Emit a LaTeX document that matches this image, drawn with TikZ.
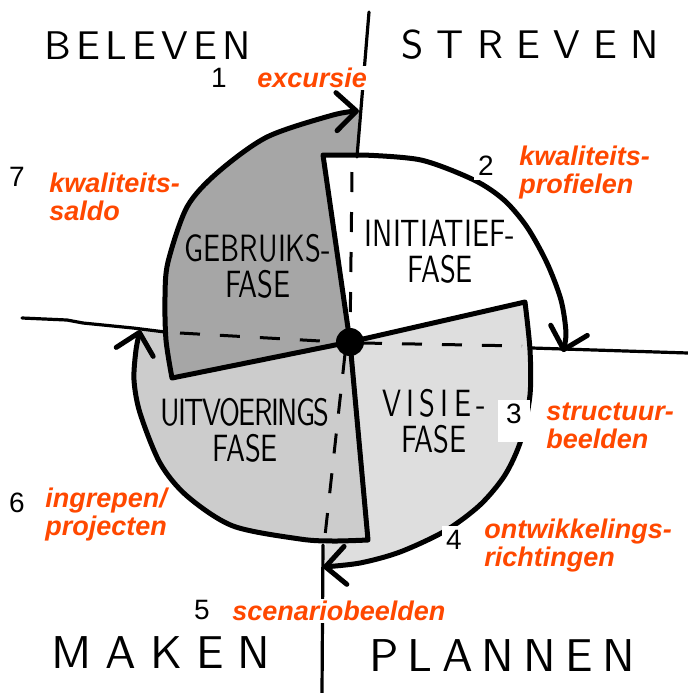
\documentclass[tikz,border=0pt]{standalone}
\usepackage{fontspec}
\setmainfont{Liberation Sans}
\newfontfamily\handfont{lmsans10-regular.otf}
\newfontfamily\phasefont{lmsans10-regular.otf}[FakeStretch=0.75]
\usetikzlibrary{arrows.meta}

\definecolor{cyclered}{RGB}{255,72,0}
\definecolor{usegray}{RGB}{166,166,166}
\definecolor{buildgray}{RGB}{204,204,204}
\definecolor{plangray}{RGB}{222,222,222}

\begin{document}
\begin{tikzpicture}[x=.5pt, y=-.5pt,
    rim/.style={line width=2.5pt, line cap=round, line join=round, -{Straight Barb[length=10pt, width=19pt, round]}},
    axis/.style={line width=1.6pt, line cap=round, line join=round},
    inaxis/.style={line width=1.5pt, dash pattern=on 10pt off 10pt},
    quarter/.style={font=\handfont\fontsize{20}{20}\selectfont, inner sep=0pt},
    phasename/.style={font=\phasefont\fontsize{19}{18}\selectfont, align=center},
    product/.style={font=\bfseries\itshape\fontsize{13.5}{14}\selectfont, text=cyclered, align=left, anchor=west, inner sep=1pt},
    stepno/.style={font=\fontsize{14}{14}\selectfont, inner sep=1pt},
    gapno/.style={stepno, fill=white, inner sep=2pt}]
  \useasboundingbox (0,0) rectangle (688,693);
  \coordinate (c) at (350,342);
  \coordinate (gebA) at (172,378);
  \coordinate (iniA) at (323,155);
  \coordinate (visA) at (525,302);
  \coordinate (uitA) at (368,540);

  \fill[plangray] (c) -- plot[smooth] coordinates {(visA) (530,350) (530,395) (521,440) (505,475) (480,505) (445,531) (400,552) (360,563) (323,567)} -- cycle;
  \fill[buildgray] (c) -- plot[smooth] coordinates {(uitA) (333,541) (300,539) (233,526) (187,496) (160,463) (140,413) (134,380) (136,350) (140,330)} -- cycle;
  \fill[usegray] (c) -- plot[smooth] coordinates {(gebA) (166,340) (165,297) (168,262) (187,207) (217,173) (267,137) (333,115) (359,111)} -- (357,155) -- (iniA) -- cycle;
  \fill[white] (c) -- (iniA) -- plot[smooth] coordinates {(363,155) (421,160) (474,180) (504,200) (527,227) (547,263) (561,300)} -- (visA) -- cycle;

  \draw[inaxis] (352,172) -- (c);
  \draw[inaxis] (362,343) -- (522,346);
  \draw[inaxis] (345,354) -- (324,545);
  \draw[inaxis] (180,333) -- (338,342);
  \draw[axis] (369,12) -- (357,157);
  \draw[axis] (532,348) -- (688,353);
  \draw[axis] (323,545) -- (322,693);
  \draw[axis] (22,318) -- (67,320) -- (83,323) -- (133,328) -- (165,332);

  \draw[rim] (c) -- plot[smooth] coordinates {(gebA) (166,340) (165,297) (168,262) (187,207) (217,173) (267,137) (333,115) (359,111)};
  \draw[rim] (c) -- (iniA) -- plot[smooth] coordinates {(363,155) (421,160) (474,180) (504,200) (527,227) (547,263) (561,300) (566,333) (563,352)};
  \draw[rim] (c) -- plot[smooth] coordinates {(visA) (530,350) (530,395) (521,440) (505,475) (480,505) (445,531) (400,552) (360,563) (323,567)};
  \draw[rim] (c) -- plot[smooth] coordinates {(uitA) (333,541) (300,539) (233,526) (187,496) (160,463) (140,413) (134,380) (136,350) (140,330)};
  \node[circle, fill=black, inner sep=0pt, minimum size=14pt] (hub) at (c) {};

  \node[quarter] (beleven) at (148,46) {\addfontfeature{LetterSpace=13}BELEVEN};
  \node[quarter] (streven) at (530,45) {\addfontfeature{LetterSpace=33}STREVEN};
  \node[quarter, font=\handfont\fontsize{23}{23}\selectfont] (maken) at (161,653) {\addfontfeature{LetterSpace=30}MAKEN};
  \node[quarter, font=\handfont\fontsize{23}{23}\selectfont] (plannen) at (502,656) {\addfontfeature{LetterSpace=20}PLANNEN};

  \node[phasename] (gebruik) at (258,266) {GEBRUIKS-\\FASE};
  \node[phasename] (initiatief) at (440,252) {INITIATIEF-\\FASE};
  \node[phasename] (uitvoering) at (245,430) {{\addfontfeature{LetterSpace=-4}UITVOERINGS}\\FASE};
  \node[phasename] (visie) at (434,421) {{\addfontfeature{LetterSpace=14}VISIE-}\\FASE};

  \node[product, fill=white] (excursie) at (255,78) {excursie};
  \node[product] (profielen) at (517,173) {kwaliteits-\\profielen};
  \node[product] (saldo) at (47,197) {kwaliteits-\\saldo};
  \node[product] (structuur) at (544,426) {structuur-\\beelden};
  \node[product] (richtingen) at (482,546) {ontwikkelings-\\richtingen};
  \node[product, fill=white] (scenario) at (230,611) {scenariobeelden};
  \node[product] (ingrepen) at (43,515) {ingrepen/\\projecten};

  \node[stepno] (n1) at (219,78) {1};
  \node[gapno] (n2) at (486,166) {2};
  \node[gapno, text depth=7pt, minimum width=16pt] (n3) at (514,421) {3};
  \node[gapno] (n4) at (454,540) {4};
  \node[stepno] (n5) at (202,610) {5};
  \node[stepno] (n6) at (17,503) {6};
  \node[stepno] (n7) at (17,177) {7};
\end{tikzpicture}
\end{document}
